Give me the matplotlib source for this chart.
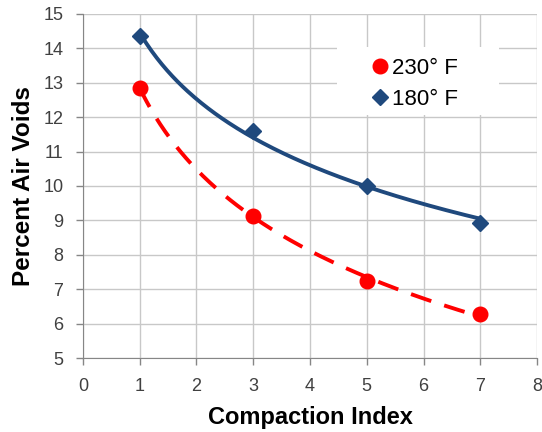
import numpy as np
import matplotlib
matplotlib.use("Agg")
import matplotlib.pyplot as plt
from matplotlib.patches import Rectangle

plt.rcParams['font.family'] = ['Liberation Sans', 'DejaVu Sans']

# data
compaction = [1, 3, 5, 7]
voids_230 = [12.85, 9.13, 7.24, 6.28]
voids_180 = [14.36, 11.6, 10.0, 8.92]

red = '#ff0000'
blue = '#1f497d'

fig = plt.figure(figsize=(5.42, 4.32), dpi=100)
ax = fig.add_axes([0.153, 0.171, 0.838, 0.797])

# logarithmic trendlines like excel
xs = np.linspace(1, 7, 200)
for y, c, ls in [(voids_230, red, (0, (5.5, 3.5))), (voids_180, blue, '-')]:
    b, a = np.polyfit(np.log(compaction), y, 1)
    ax.plot(xs, a + b * np.log(xs), color=c, lw=2.8, linestyle=ls, zorder=3)

ax.plot(compaction, voids_230, 'o', color=red, ms=10.5, label='230° F', zorder=4)
ax.plot(compaction, voids_180, 'D', color=blue, ms=8, label='180° F', zorder=4)

ax.set_xlim(0, 8)
ax.set_ylim(5, 15)
ax.set_xticks(range(0, 9))
ax.set_yticks(range(5, 16))
ax.grid(True, color='#c8c8c8', lw=1)
ax.set_axisbelow(True)
for s in ['top', 'right']:
    ax.spines[s].set_visible(False)
for s in ['left', 'bottom']:
    ax.spines[s].set_color('#868686')
ax.tick_params(colors='#868686', labelcolor='#404040', labelsize=13, length=5,
               direction='out', width=1)
ax.tick_params(axis='x', pad=9)
ax.tick_params(axis='y', pad=9)

ax.set_xlabel('Compaction Index', fontsize=17, fontweight='bold', labelpad=8)
ax.set_ylabel('Percent Air Voids', fontsize=17.5, fontweight='bold', labelpad=6)

# white legend area hiding the grid, wider than the legend itself
ax.add_patch(Rectangle((0.559, 0.706), 0.357, 0.198, transform=ax.transAxes,
                       facecolor='white', edgecolor='none', zorder=2))
leg = ax.legend(loc='upper left', bbox_to_anchor=(0.630, 0.873), fontsize=16,
                frameon=False, handletextpad=0.05, borderpad=0, labelspacing=0.45,
                handlelength=1.0, borderaxespad=0)

fig.savefig('out.png', dpi=100)
